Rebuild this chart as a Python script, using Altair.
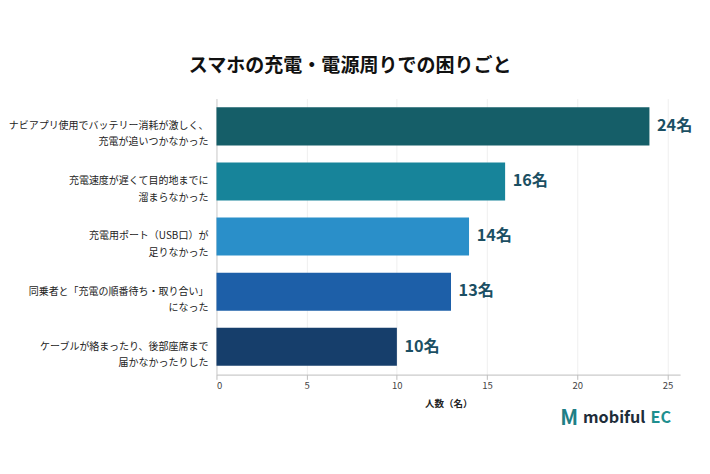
import altair as alt
import pandas as pd

categories = [
    "ナビアプリ使用でバッテリー消耗が激しく、\n充電が追いつかなかった",
    "充電速度が遅くて目的地までに\n溜まらなかった",
    "充電用ポート（USB口）が\n足りなかった",
    "同乗者と「充電の順番待ち・取り合い」\nになった",
    "ケーブルが絡まったり、後部座席まで\n届かなかったりした",
]
counts = [24, 16, 14, 13, 10]
colors = ["#155e68", "#17849a", "#2a8fc9", "#1d5fa8", "#163e6b"]

df = pd.DataFrame({"cat": categories, "n": counts, "label": [f"{c}名" for c in counts]})
font = "Noto Sans CJK JP"

y = alt.Y("cat:N", sort=categories, title=None,
          scale=alt.Scale(paddingInner=0.31, paddingOuter=0.16),
          axis=alt.Axis(labelExpr="split(datum.label, '\\n')", labelFontSize=10.5,
                        labelColor="#222", labelPadding=9, ticks=False, domain=True,
                        domainColor="#ccc", labelLimit=300, labelLineHeight=17))

bars = alt.Chart(df).mark_bar().encode(
    x=alt.X("n:Q", title="人数（名）", scale=alt.Scale(domain=[0, 25.7], nice=False),
            axis=alt.Axis(values=[0, 5, 10, 15, 20, 25], grid=True, gridColor="#eee",
                          domainColor="#bbb", tickColor="#bbb", labelColor="#444",
                          labelFontSize=10, titleFontSize=10, titleFontWeight="bold",
                          titleColor="#222", titlePadding=8)),
    y=y,
    color=alt.Color("cat:N", sort=categories, scale=alt.Scale(domain=categories, range=colors), legend=None),
)

text = alt.Chart(df).mark_text(align="left", dx=8, fontSize=17, fontWeight="bold",
                               color="#1b4f63", font=font).encode(
    x="n:Q", y=alt.Y("cat:N", sort=categories), text="label:N")

base1 = alt.Chart(df.head(1))
logo_m = base1.mark_text(align="left", fontSize=22, fontWeight="bold", color="#1f7f86", font=font).encode(
    x=alt.value(361), y=alt.value(336), text=alt.value("M"))
logo_a = base1.mark_text(align="left", fontSize=17, fontWeight="bold", color="#1e2d3a", font=font).encode(
    x=alt.value(385), y=alt.value(336), text=alt.value("mobiful"))
logo_b = base1.mark_text(align="left", fontSize=17, fontWeight="bold", color="#1f8f8f", font=font).encode(
    x=alt.value(456), y=alt.value(336), text=alt.value("EC"))

chart = alt.layer(bars, text, logo_m, logo_a, logo_b).properties(
    width=487, height=290,
    title=alt.TitleParams("スマホの充電・電源周りでの困りごと", fontSize=20, fontWeight="bold",
                          color="#111", font=font, offset=24, anchor="middle", frame="bounds"),
    padding={"top": 40, "left": 0, "right": 10, "bottom": 10},
).configure(font=font).configure_view(stroke=None)

chart.save("out.html", embed_options={"renderer": "svg", "actions": False})
